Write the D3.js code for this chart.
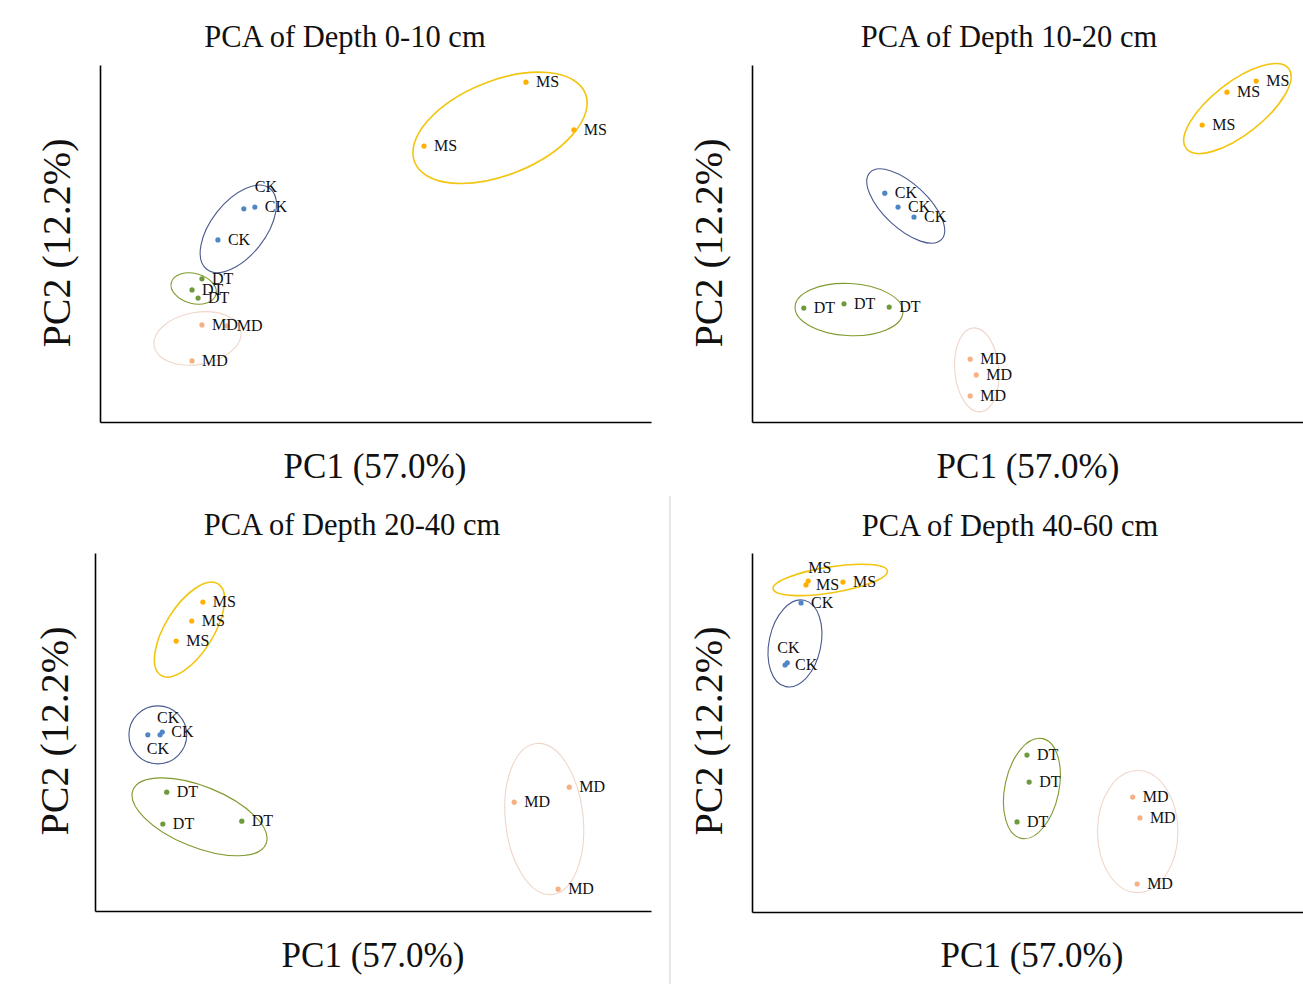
<!DOCTYPE html>
<html>
<head>
<meta charset="utf-8">
<script src="https://cdn.jsdelivr.net/npm/d3@7/dist/d3.min.js"></script>
<style>
  html, body { margin: 0; padding: 0; background: #ffffff; }
  svg { display: block; }
</style>
</head>
<body>
<svg id="chart" width="1303" height="984"></svg>
<script>
// ---------------- DATA ----------------
const panelTitles = ["PCA of Depth 0-10 cm", "PCA of Depth 10-20 cm", "PCA of Depth 20-40 cm", "PCA of Depth 40-60 cm"];
const xAxisLabel = "PC1 (57.0%)";
const yAxisLabel = "PC2 (12.2%)";
const groups = ["CK", "DT", "MD", "MS"];

// sample group per point (same order in each panel)
const sampleGroup = ["CK","CK","CK","DT","DT","DT","MD","MD","MD","MS","MS","MS"];

// PC scores (scaled 0-100 along each axis)
const pc1_0_10  = [26.1, 28.1, 21.4, 18.5, 16.7, 17.8, 18.5, 23.0, 16.7, 77.3, 86.0, 58.8];
const pc2_0_10  = [59.7, 60.2, 51.0, 40.1, 37.0, 34.7, 27.2, 26.9, 17.1, 95.2, 81.8, 77.3];
const pc1_10_20 = [24.1, 26.5, 29.4,  9.4, 16.7, 24.9, 39.6, 40.7, 39.6, 91.5, 86.2, 81.7];
const pc2_10_20 = [64.1, 60.2, 57.4, 31.9, 33.1, 32.2, 17.6, 13.2,  7.3, 95.5, 92.4, 83.2];
const pc1_20_40 = [ 9.5, 11.7, 12.1, 12.9, 12.2, 26.4, 85.3, 75.4, 83.3, 19.4, 17.4, 14.6];
const pc2_20_40 = [49.2, 49.2, 50.0, 33.2, 24.3, 25.1, 34.6, 30.4,  6.1, 86.3, 81.0, 75.4];
const pc1_40_60 = [ 8.9,  6.0,  6.4, 49.9, 50.3, 48.1, 69.1, 70.4, 69.9,  9.8, 10.2, 16.5];
const pc2_40_60 = [86.1, 68.8, 69.4, 43.7, 36.2, 25.1, 32.0, 26.2,  7.8, 91.1, 92.2, 91.9];

// group ellipses: centre (PC1, PC2), semi-axes (PC1 units, PC2 units), tilt (deg)
const ellCx_0_10  = [25.1, 17.0, 17.7, 72.6];
const ellCy_0_10  = [54.1, 37.4, 23.4, 82.4];
const ellRx_0_10  = [ 9.3,  4.2,  8.0, 16.7];
const ellRy_0_10  = [ 7.6,  4.2,  7.3, 13.2];
const ellA_0_10   = [-52,  15, -10, -22];

const ellCx_10_20 = [27.9, 17.6, 40.8, 88.1];
const ellCy_10_20 = [60.5, 31.5, 14.6, 87.8];
const ellRx_10_20 = [ 8.9,  9.8,  4.0, 11.8];
const ellRy_10_20 = [ 6.2,  7.3, 11.8,  7.3];
const ellA_10_20  = [ 43,   3,  -5, -38];

const ellCx_20_40 = [11.3, 18.8, 80.8, 17.0];
const ellCy_20_40 = [49.2, 26.3, 25.7, 78.6];
const ellRx_20_40 = [ 5.2, 12.9,  7.0,  9.7];
const ellRy_20_40 = [ 8.1,  8.5, 21.2,  6.7];
const ellA_20_40  = [  0,  22,  -6, -58];

const ellCx_40_60 = [ 7.8, 50.8, 70.0, 14.2];
const ellCy_40_60 = [74.8, 34.4, 22.4, 92.5];
const ellRx_40_60 = [ 4.7,  4.9,  7.3, 10.5];
const ellRy_40_60 = [12.3, 14.2, 17.0,  3.6];
const ellA_40_60  = [ 12,  12,   0,  -9];

// ---------------- STYLE / LAYOUT ----------------
const pointColor = { CK: "#4f86c6", DT: "#6e9a3c", MD: "#f4b183", MS: "#ffb000" };
const ellColor   = { CK: "#4a5a8e", DT: "#7f9a2e", MD: "#efd6ca", MS: "#f2c50f" };
const ellWidth   = { CK: 1.1, DT: 1.1, MD: 1.1, MS: 1.6 };

const layout = [
  { x0: 100, x1: 651,  yb: 422, yt: 65,  title: [345, 47],  xl: [375, 478],  yl: [70, 243] },
  { x0: 752, x1: 1303, yb: 422, yt: 65,  title: [1009, 47], xl: [1028, 478], yl: [722, 243] },
  { x0: 95,  x1: 651,  yb: 911, yt: 553, title: [352, 535], xl: [373, 967],  yl: [68, 731] },
  { x0: 752, x1: 1303, yb: 912, yt: 553, title: [1010, 536],xl: [1032, 967], yl: [722, 731] }
];

// label nudges for overlapping labels: [panel, pointIndex] -> [dx, dy]
const labelNudge = {
  "0-0": [11, -17],
  "2-0": [-1, 19], "2-1": [-3, -12], "2-2": [9, 5],
  "3-10": [0, -8], "3-2": [-10, -10]
};

const panels = [
  { title: panelTitles[0], pc1: pc1_0_10,  pc2: pc2_0_10,  ecx: ellCx_0_10,  ecy: ellCy_0_10,  erx: ellRx_0_10,  ery: ellRy_0_10,  ea: ellA_0_10 },
  { title: panelTitles[1], pc1: pc1_10_20, pc2: pc2_10_20, ecx: ellCx_10_20, ecy: ellCy_10_20, erx: ellRx_10_20, ery: ellRy_10_20, ea: ellA_10_20 },
  { title: panelTitles[2], pc1: pc1_20_40, pc2: pc2_20_40, ecx: ellCx_20_40, ecy: ellCy_20_40, erx: ellRx_20_40, ery: ellRy_20_40, ea: ellA_20_40 },
  { title: panelTitles[3], pc1: pc1_40_60, pc2: pc2_40_60, ecx: ellCx_40_60, ecy: ellCy_40_60, erx: ellRx_40_60, ery: ellRy_40_60, ea: ellA_40_60 }
];

const FONT = "'Liberation Serif', 'Times New Roman', serif";
const svg = d3.select("#chart");

// separator between bottom panels
svg.append("line")
  .attr("x1", 670).attr("x2", 670).attr("y1", 496).attr("y2", 984)
  .attr("stroke", "#d0d0d0").attr("stroke-width", 1);

panels.forEach((p, pi) => {
  const L = layout[pi];
  const x = d3.scaleLinear().domain([0, 100]).range([L.x0, L.x1]);
  const y = d3.scaleLinear().domain([0, 100]).range([L.yb, L.yt]);
  const g = svg.append("g");

  // axes (no ticks)
  g.append("g").attr("transform", `translate(0,${L.yb})`)
    .call(d3.axisBottom(x).tickValues([]).tickSizeOuter(0))
    .call(s => s.select(".domain").attr("stroke", "#000").attr("stroke-width", 1.6));
  g.append("g").attr("transform", `translate(${L.x0},0)`)
    .call(d3.axisLeft(y).tickValues([]).tickSizeOuter(0))
    .call(s => s.select(".domain").attr("stroke", "#000").attr("stroke-width", 1.6));

  // ellipses
  groups.forEach((grp, gi) => {
    const rxPx = x(p.erx[gi]) - x(0);
    const ryPx = y(0) - y(p.ery[gi]);
    g.append("ellipse")
      .attr("transform", `translate(${x(p.ecx[gi])},${y(p.ecy[gi])}) rotate(${p.ea[gi]})`)
      .attr("rx", rxPx).attr("ry", ryPx)
      .attr("fill", "none")
      .attr("stroke", ellColor[grp])
      .attr("stroke-width", ellWidth[grp]);
  });

  // points
  const pts = p.pc1.map((v, i) => ({ i, x: v, y: p.pc2[i], grp: sampleGroup[i] }));
  g.selectAll("circle.pt").data(pts).enter().append("circle")
    .attr("class", "pt")
    .attr("cx", d => x(d.x)).attr("cy", d => y(d.y))
    .attr("r", 2.6)
    .attr("fill", d => pointColor[d.grp]);

  // labels
  g.selectAll("text.lab").data(pts).enter().append("text")
    .attr("class", "lab")
    .attr("x", d => x(d.x) + (labelNudge[pi + "-" + d.i] || [10, 5])[0])
    .attr("y", d => y(d.y) + (labelNudge[pi + "-" + d.i] || [10, 5])[1])
    .attr("font-family", FONT).attr("font-size", 16).attr("fill", "#111")
    .text(d => d.grp);

  // title
  g.append("text")
    .attr("x", L.title[0]).attr("y", L.title[1])
    .attr("text-anchor", "middle")
    .attr("font-family", FONT).attr("font-size", 30.5).attr("fill", "#111")
    .text(p.title);

  // x label
  g.append("text")
    .attr("x", L.xl[0]).attr("y", L.xl[1])
    .attr("text-anchor", "middle")
    .attr("font-family", FONT).attr("font-size", 35).attr("fill", "#111")
    .text(xAxisLabel);

  // y label
  g.append("text")
    .attr("transform", `translate(${L.yl[0]},${L.yl[1]}) rotate(-90)`)
    .attr("text-anchor", "middle")
    .attr("font-family", FONT).attr("font-size", 40).attr("fill", "#111")
    .text(yAxisLabel);
});
</script>
</body>
</html>
